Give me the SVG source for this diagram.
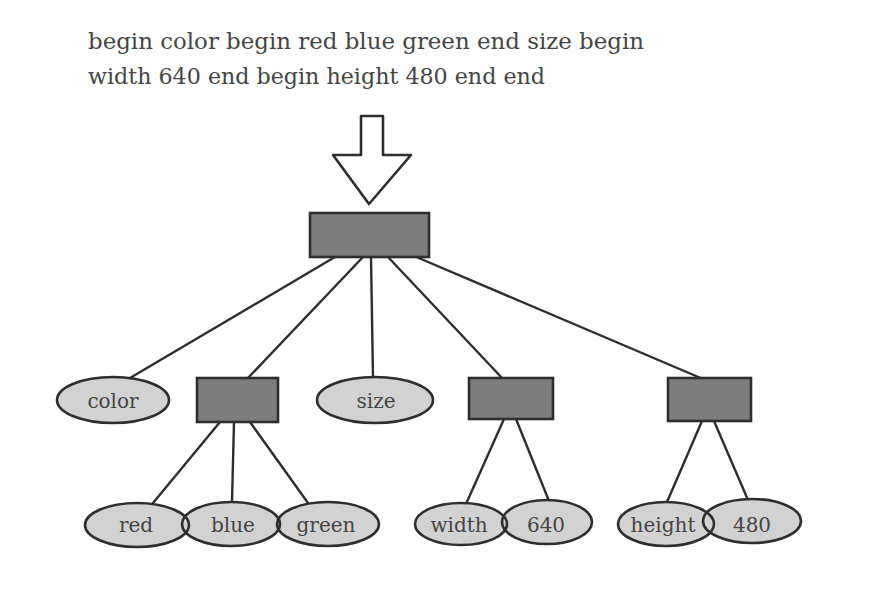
<svg xmlns="http://www.w3.org/2000/svg" width="891" height="592" viewBox="0 0 891 592">
<style>
.t{font-family:"DejaVu Serif","Liberation Serif",serif;fill:#454545}
.title{font-size:22px}
.lbl{font-size:20px;text-anchor:middle}
.box{fill:#7d7d7d;stroke:#2e2e2e;stroke-width:2.6}
.oval{fill:#d2d2d2;stroke:#2e2e2e;stroke-width:2.6}
.ring{fill:none;stroke:#2e2e2e;stroke-width:2.6}
.edge{stroke:#2e2e2e;stroke-width:2.4;fill:none;stroke-linecap:round}
</style>
<defs>
<clipPath id="c-blue"><ellipse cx="231" cy="524" rx="49" ry="22"/></clipPath>
<clipPath id="c-green"><ellipse cx="328" cy="524" rx="51" ry="22"/></clipPath>
<clipPath id="c-640"><ellipse cx="547" cy="522" rx="45" ry="22"/></clipPath>
<clipPath id="c-480"><ellipse cx="752" cy="521" rx="49" ry="22"/></clipPath>
</defs>
<rect width="891" height="592" fill="#ffffff"/>
<g id="title">
<text class="t title" x="88" y="49" textLength="556" lengthAdjust="spacingAndGlyphs">begin color begin red blue green end size begin</text>
<text class="t title" x="88" y="84" textLength="457" lengthAdjust="spacingAndGlyphs">width 640 end begin height 480 end end</text>
</g>
<g id="input-arrow">
<polygon points="361,116 383,116 383,155 411,155 369,204 333,155 361,155" fill="#ffffff" stroke="#2e2e2e" stroke-width="2.6" stroke-linejoin="round"/>
</g>
<g id="connectors">
<line class="edge" x1="335" y1="257" x2="130" y2="378"/>
<line class="edge" x1="363" y1="257" x2="247" y2="379"/>
<line class="edge" x1="371" y1="257" x2="373" y2="378"/>
<line class="edge" x1="388" y1="257" x2="503" y2="379"/>
<line class="edge" x1="414" y1="256" x2="703" y2="379"/>
<line class="edge" x1="220" y1="422" x2="153" y2="503"/>
<line class="edge" x1="234" y1="422" x2="232" y2="502"/>
<line class="edge" x1="250" y1="422" x2="308" y2="503"/>
<line class="edge" x1="504" y1="419" x2="466" y2="504"/>
<line class="edge" x1="516" y1="419" x2="549" y2="501"/>
<line class="edge" x1="702" y1="421" x2="667" y2="502"/>
<line class="edge" x1="714" y1="421" x2="748" y2="500"/>
</g>
<g id="root"><rect class="box" x="310" y="213" width="119" height="44"/></g>
<g id="color"><ellipse class="oval" cx="113" cy="400" rx="56" ry="23"/><text class="t lbl" x="113" y="408">color</text></g>
<g id="list-color"><rect class="box" x="197" y="378" width="81" height="44"/></g>
<g id="size"><ellipse class="oval" cx="375" cy="400" rx="58" ry="23"/><text class="t lbl" x="376" y="408">size</text></g>
<g id="list-width"><rect class="box" x="469" y="378" width="84" height="41"/></g>
<g id="list-height"><rect class="box" x="668" y="378" width="83" height="43"/></g>
<g id="red"><ellipse class="oval" cx="137" cy="525" rx="52" ry="22"/><text class="t lbl" x="136" y="532">red</text></g>
<g id="blue"><ellipse class="oval" cx="231" cy="524" rx="49" ry="22"/><ellipse class="ring" cx="137" cy="525" rx="52" ry="22" clip-path="url(#c-blue)"/><text class="t lbl" x="233" y="532">blue</text></g>
<g id="green"><ellipse class="oval" cx="328" cy="524" rx="51" ry="22"/><ellipse class="ring" cx="231" cy="524" rx="49" ry="22" clip-path="url(#c-green)"/><text class="t lbl" x="326" y="532">green</text></g>
<g id="width"><ellipse class="oval" cx="461" cy="524" rx="46" ry="21"/><text class="t lbl" x="459" y="532">width</text></g>
<g id="v640"><ellipse class="oval" cx="547" cy="522" rx="45" ry="22"/><ellipse class="ring" cx="461" cy="524" rx="46" ry="21" clip-path="url(#c-640)"/><text class="t lbl" x="546" y="532">640</text></g>
<g id="height"><ellipse class="oval" cx="666" cy="524" rx="48" ry="22"/><text class="t lbl" x="663" y="532">height</text></g>
<g id="v480"><ellipse class="oval" cx="752" cy="521" rx="49" ry="22"/><ellipse class="ring" cx="666" cy="524" rx="48" ry="22" clip-path="url(#c-480)"/><text class="t lbl" x="752" y="532">480</text></g>
</svg>
